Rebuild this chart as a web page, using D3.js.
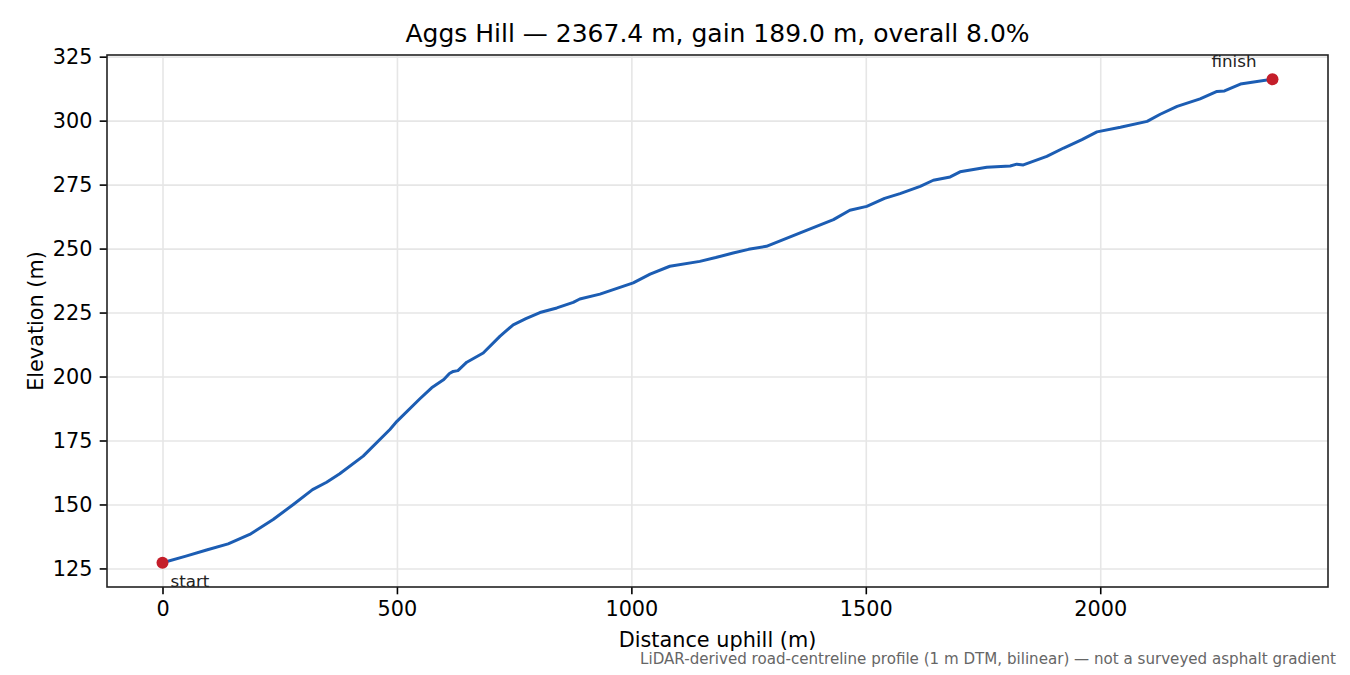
<!DOCTYPE html>
<html>
  <head>
    <meta charset="UTF-8">
    <style>
      body {
        margin: 0;
        background: white;
        font-family: "DejaVu Sans", sans-serif;
      }

      .tick text {
        font-family: "DejaVu Sans", sans-serif;
        font-size: 20.8px;
        fill: #000;
      }

      .tick line {
        stroke: #000;
        stroke-width: 1.6px;
      }

      .grid line {
        stroke: #e6e6e6;
        stroke-width: 1.6px;
      }

      .grid path {
        display: none;
      }
    </style>
    <script src="https://d3js.org/d3.v7.min.js"></script>
  </head>

  <body>
    <svg id="profile"></svg>

    <script type="text/javascript">
      // profile (distance uphill m, elevation m)
      let distances = [
        0, 50, 94, 140, 186, 236, 279, 320, 350, 378, 428, 485, 500, 549, 574,
        600, 612, 620, 630, 649, 684, 720, 748, 775, 805, 841, 876, 890, 933,
        1004, 1040, 1082, 1146, 1180, 1217, 1250, 1288, 1360, 1431, 1466, 1502,
        1540, 1573, 1616, 1644, 1680, 1701, 1758, 1808, 1822, 1836, 1886, 1922,
        1961, 1993, 2043, 2100, 2128, 2164, 2213, 2249, 2265, 2299, 2367.4
      ]
      let elevations = [
        127.2, 129.8, 132.2, 134.6, 138.3, 144.1, 150.0, 155.8, 158.7, 162.0,
        168.9, 179.3, 182.5, 191.3, 195.6, 198.8, 201.2, 202.0, 202.3, 205.6,
        209.2, 215.8, 220.2, 222.6, 225.0, 226.8, 229.0, 230.3, 232.2, 236.6,
        240.0, 243.1, 245.0, 246.5, 248.3, 249.7, 250.9, 256.1, 261.3, 265.0,
        266.5, 269.6, 271.5, 274.3, 276.7, 278.0, 280.0, 281.8, 282.3, 283.0,
        282.7, 286.0, 289.3, 292.6, 295.6, 297.4, 299.7, 302.5, 305.6, 308.5,
        311.4, 311.6, 314.3, 316.2
      ]
      let xTicks = [0, 500, 1000, 1500, 2000]
      let yTicks = [125, 150, 175, 200, 225, 250, 275, 300, 325]
      let endLabels = ['start', 'finish']

      let titleText = 'Aggs Hill \u2014 2367.4 m, gain 189.0 m, overall 8.0%'
      let noteText = 'LiDAR-derived road-centreline profile (1 m DTM, bilinear) \u2014 not a surveyed asphalt gradient'

      let points = distances.map((d, i) => ({dist: d, elev: elevations[i]}))

      let width = 1350
      let height = 675
      let margin = {top: 55, bottom: 88, left: 107, right: 22}
      let bodyWidth = width - margin.left - margin.right
      let bodyHeight = height - margin.top - margin.bottom

      let svg = d3.select('#profile')
        .attr('width', width)
        .attr('height', height)

      // matplotlib-style 5% padding around the data
      let xMin = d3.min(distances), xMax = d3.max(distances)
      let yMin = d3.min(elevations), yMax = d3.max(elevations)
      let xPad = (xMax - xMin) * 0.05
      let yPad = (yMax - yMin) * 0.05

      let xScale = d3.scaleLinear()
        .domain([xMin - xPad, xMax + xPad])
        .range([0, bodyWidth])

      let yScale = d3.scaleLinear()
        .domain([yMin - yPad, yMax + yPad])
        .range([bodyHeight, 0])

      let body = svg.append('g')
        .attr('transform', `translate(${margin.left}, ${margin.top})`)

      // grid
      body.append('g')
        .attr('class', 'grid')
        .attr('transform', `translate(0, ${bodyHeight})`)
        .call(d3.axisBottom(xScale).tickValues(xTicks).tickSize(-bodyHeight).tickFormat(''))

      body.append('g')
        .attr('class', 'grid')
        .call(d3.axisLeft(yScale).tickValues(yTicks).tickSize(-bodyWidth).tickFormat(''))

      // profile line
      let line = d3.line()
        .x(d => xScale(d.dist))
        .y(d => yScale(d.elev))

      body.append('path')
        .datum(points)
        .attr('d', line)
        .attr('fill', 'none')
        .attr('stroke', '#1c5db3')
        .attr('stroke-width', 3)
        .attr('stroke-linejoin', 'round')
        .attr('stroke-linecap', 'round')

      // start / finish markers
      let ends = [points[0], points[points.length - 1]]

      body.selectAll('.end-dot')
        .data(ends)
        .enter()
        .append('circle')
        .attr('class', 'end-dot')
        .attr('cx', d => xScale(d.dist))
        .attr('cy', d => yScale(d.elev))
        .attr('r', 6)
        .attr('fill', '#c41e2a')

      body.selectAll('.end-label')
        .data(ends)
        .enter()
        .append('text')
        .attr('class', 'end-label')
        .attr('x', (d, i) => xScale(d.dist) + (i === 0 ? 8 : -16))
        .attr('y', (d, i) => yScale(d.elev) + (i === 0 ? 24 : -12))
        .attr('text-anchor', (d, i) => i === 0 ? 'start' : 'end')
        .style('font-size', '16.7px')
        .style('fill', '#222')
        .text((d, i) => endLabels[i])

      // axes
      let axisX = d3.axisBottom(xScale)
        .tickValues(xTicks)
        .tickFormat(d3.format('d'))
        .tickSize(7.3)
        .tickPadding(7)
        .tickSizeOuter(0)

      let gx = body.append('g')
        .attr('transform', `translate(0, ${bodyHeight})`)
        .call(axisX)
      gx.select('.domain').remove()

      let axisY = d3.axisLeft(yScale)
        .tickValues(yTicks)
        .tickSize(7.3)
        .tickPadding(7.3)
        .tickSizeOuter(0)

      let gy = body.append('g')
        .call(axisY)
      gy.select('.domain').remove()

      // frame
      body.append('rect')
        .attr('width', bodyWidth)
        .attr('height', bodyHeight)
        .attr('fill', 'none')
        .attr('stroke', '#222')
        .attr('stroke-width', 1.6)

      // texts
      svg.append('text')
        .attr('x', margin.left + bodyWidth / 2)
        .attr('y', 42)
        .attr('text-anchor', 'middle')
        .style('font-size', '25px')
        .text(titleText)

      svg.append('text')
        .attr('x', margin.left + bodyWidth / 2)
        .attr('y', 647)
        .attr('text-anchor', 'middle')
        .style('font-size', '20.8px')
        .text('Distance uphill (m)')

      svg.append('text')
        .attr('transform', `translate(43, ${margin.top + bodyHeight / 2}) rotate(-90)`)
        .attr('text-anchor', 'middle')
        .style('font-size', '20.8px')
        .text('Elevation (m)')

      svg.append('text')
        .attr('x', 1336)
        .attr('y', 664)
        .attr('text-anchor', 'end')
        .style('font-size', '15.1px')
        .style('fill', '#666')
        .text(noteText)
    </script>
  </body>
</html>
